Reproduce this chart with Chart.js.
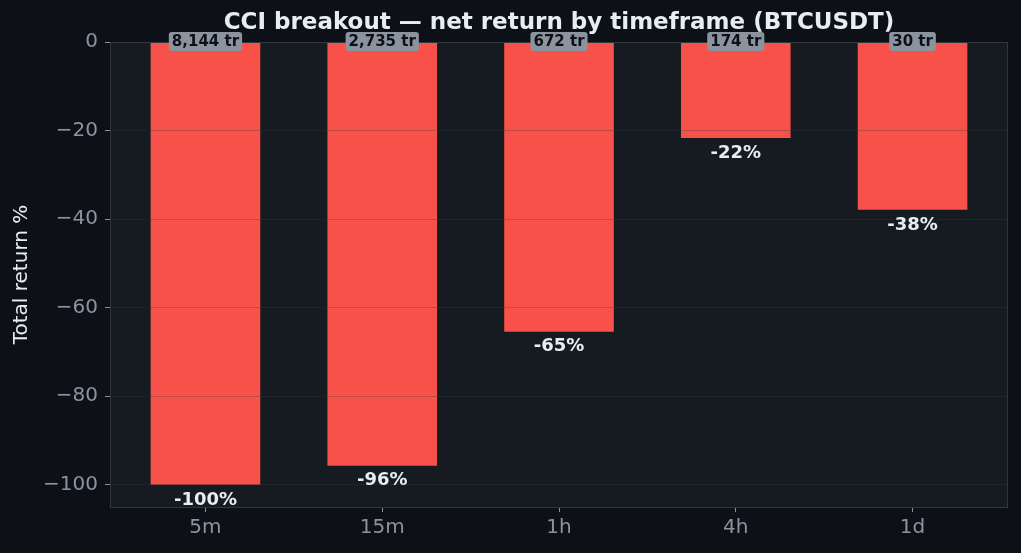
<!DOCTYPE html>
<html>
<head>
<meta charset="utf-8">
<script src="https://cdn.jsdelivr.net/npm/chart.js@4"></script>
<style>
  html, body { margin: 0; padding: 0; background: #0d1117; }
  #wrap { width: 1021px; height: 553px; }
</style>
</head>
<body>
<div id="wrap"><canvas id="chart"></canvas></div>
<script>
// data
const timeframes = ['5m', '15m', '1h', '4h', '1d'];
const netReturn = [-100, -95.7, -65.4, -21.7, -37.9];
const tradeCounts = ['8,144', '2,735', '672', '174', '30'];
const yTicks = [-100, -80, -60, -40, -20, 0];

const font = 'DejaVu Sans';

// plot background + border
const frame = {
  id: 'frame',
  beforeDraw(chart) {
    const a = chart.chartArea, c = chart.ctx;
    c.save();
    c.fillStyle = '#161b22';
    c.fillRect(a.left, a.top, a.right - a.left, a.bottom - a.top);
    c.restore();
  },
  afterDraw(chart) {
    const a = chart.chartArea, c = chart.ctx;
    c.save();
    c.strokeStyle = '#30363d';
    c.lineWidth = 1;
    c.strokeRect(a.left + 0.5, a.top + 0.5, a.right - a.left - 1, a.bottom - a.top);
    c.restore();
  }
};

// value labels under each bar and trade count badges at zero
const barLabels = {
  id: 'barLabels',
  afterDraw(chart) {
    const c = chart.ctx;
    const meta = chart.getDatasetMeta(0);
    const zeroY = chart.scales.y.getPixelForValue(0);
    c.save();
    meta.data.forEach((bar, i) => {
      c.font = 'bold 18px "' + font + '"';
      c.fillStyle = '#e6edf3';
      c.textAlign = 'center';
      c.textBaseline = 'middle';
      c.fillText(Math.round(netReturn[i]) + '%', bar.x, bar.y + 15);

      const txt = tradeCounts[i] + ' tr';
      c.font = 'bold 15px "' + font + '"';
      const w = c.measureText(txt).width + 6;
      const h = 19;
      c.fillStyle = '#8b949e';
      c.beginPath();
      c.roundRect(bar.x - w / 2, zeroY - h / 2 - 0.5, w, h, 3);
      c.fill();
      c.fillStyle = '#0d1117';
      c.fillText(txt, bar.x, zeroY);
    });
    c.restore();
  }
};

new Chart(document.getElementById('chart'), {
  type: 'bar',
  data: {
    datasets: [{
      data: timeframes.map((t, i) => ({ x: i, y: netReturn[i] })),
      backgroundColor: '#f85149',
      borderWidth: 0,
      barPercentage: 0.62,
      categoryPercentage: 1
    }]
  },
  options: {
    responsive: true,
    maintainAspectRatio: false,
    animation: false,
    layout: { padding: { left: 0, right: 13, top: 0, bottom: 0 } },
    plugins: {
      legend: { display: false },
      tooltip: { enabled: false },
      title: {
        display: true,
        text: 'CCI breakout — net return by timeframe (BTCUSDT)',
        color: '#e6edf3',
        fullSize: false,
        font: { family: font, size: 23, weight: 'bold', lineHeight: 1.2 },
        padding: { top: 9, bottom: 5.4 }
      }
    },
    scales: {
      x: {
        type: 'linear',
        min: -0.54,
        max: 4.54,
        offset: false,
        afterBuildTicks: s => { s.ticks = timeframes.map((t, i) => ({ value: i })); },
        afterFit: s => { s.height = 46; },
        ticks: {
          color: '#8b949e',
          font: { family: font, size: 20 },
          padding: 4,
          callback: v => timeframes[v]
        },
        grid: { offset: false, drawOnChartArea: false, tickLength: 5, tickColor: '#8b949e' },
        border: { display: false }
      },
      y: {
        min: -105,
        max: 0,
        afterBuildTicks: s => { s.ticks = yTicks.map(v => ({ value: v })); },
        afterFit: s => { s.width = 110; },
        ticks: {
          color: '#8b949e',
          font: { family: font, size: 20 },
          padding: 7,
          callback: v => v < 0 ? '\u2212' + Math.abs(v) : String(v)
        },
        grid: { z: 1, color: 'rgba(52,58,66,0.3)', lineWidth: 1, tickLength: 5, tickColor: '#8b949e' },
        border: { display: false },
        title: {
          display: true,
          text: 'Total return %',
          color: '#e6edf3',
          font: { family: font, size: 20 },
          padding: { top: 10, bottom: 0 }
        }
      }
    }
  },
  plugins: [frame, barLabels]
});
</script>
</body>
</html>
